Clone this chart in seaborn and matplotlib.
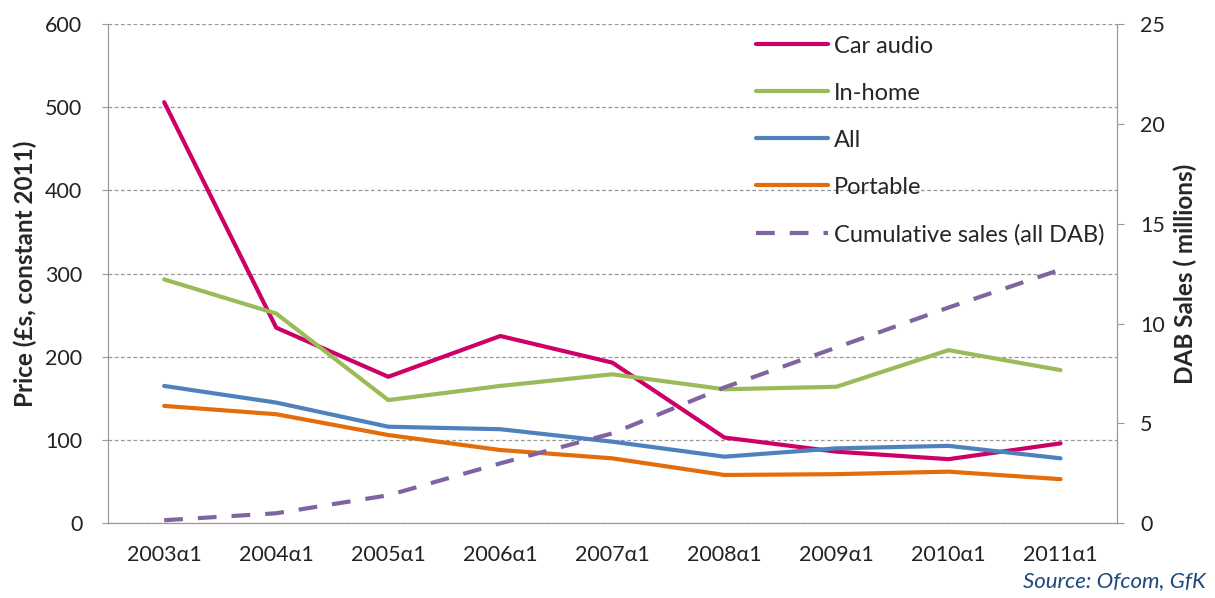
import numpy as np
import pandas as pd
import seaborn as sns
import matplotlib.pyplot as plt

quarters = ["2003α1", "2004α1", "2005α1", "2006α1", "2007α1",
            "2008α1", "2009α1", "2010α1", "2011α1"]
car_audio = [506, 235, 176, 225, 193, 103, 86, 77, 96]
in_home = [293, 252, 148, 165, 179, 161, 164, 208, 184]
all_dab = [165, 145, 116, 113, 98, 80, 90, 93, 78]
portable = [141, 131, 106, 88, 78, 58, 59, 62, 53]
cumulative_sales = [0.15, 0.5, 1.4, 3.0, 4.5, 6.8, 8.8, 10.8, 12.7]

series_names = ["Car audio", "In-home", "All", "Portable"]
colors = {"Car audio": "#CC0066", "In-home": "#9BBB59",
          "All": "#4F81BD", "Portable": "#E46C0A"}

sns.set_style("white")
plt.rcParams['font.family'] = ['Lato', 'DejaVu Sans']

df = pd.DataFrame({"Quarter": quarters, "Car audio": car_audio,
                   "In-home": in_home, "All": all_dab, "Portable": portable})
long = df.melt(id_vars="Quarter", var_name="Type", value_name="Price")
long["x"] = long["Quarter"].map({q: i for i, q in enumerate(quarters)})

fig = plt.figure(figsize=(12.15, 5.98), dpi=100)
ax = fig.add_axes([0.089, 0.125, 0.83, 0.835])
ax2 = ax.twinx()

sns.lineplot(data=long, x="x", y="Price", hue="Type", hue_order=series_names,
             palette=colors, linewidth=3, ax=ax, legend=False)
sales = pd.DataFrame({"x": range(len(quarters)), "Sales": cumulative_sales})
sns.lineplot(data=sales, x="x", y="Sales", color="#8064A2", linewidth=3,
             ax=ax2, legend=False)
ax2.lines[0].set_dashes([4.5, 3.6])

ax.set_xlim(-0.5, len(quarters) - 0.5)
ax.set_ylim(0, 600)
ax2.set_ylim(0, 25)
ax.set_yticks(range(0, 601, 100))
ax2.set_yticks(range(0, 26, 5))
ax.set_xticks(range(len(quarters)))
ax.set_xticklabels(quarters)
ax.set_xticks(np.arange(-0.5, len(quarters), 1), minor=True)
ax.tick_params(axis="x", which="major", length=0, pad=16, labelsize=15.5, colors="#222222")
ax.tick_params(axis="x", which="minor", length=7, color="#999999")
ax.tick_params(axis="y", length=4.5, pad=14, color="#999999", labelsize=15.5, colors="#222222")
ax2.tick_params(axis="y", length=5, pad=12, color="#999999", labelsize=15.5, colors="#222222")
ax.grid(axis="y", linestyle=(0, (3, 2)), color="#999999", linewidth=0.9)
ax.set_axisbelow(True)

for a in (ax, ax2):
    a.spines["top"].set_visible(False)
    for s in ("left", "right", "bottom"):
        a.spines[s].set_color("#999999")

ax.set_xlabel("")
ax.set_ylabel("Price (£s, constant 2011)", fontsize=17.5, fontweight="bold", labelpad=6)
ax2.set_ylabel("DAB Sales ( millions)", fontsize=17.5, fontweight="bold", labelpad=6)

handles = [plt.Line2D([], [], color=colors[n], linewidth=3) for n in series_names]
handles.append(plt.Line2D([], [], color="#8064A2", linewidth=3, dashes=[4.5, 3.6]))
labels = series_names + ["Cumulative sales (all DAB)"]
ax.legend(handles, labels, loc="upper right", bbox_to_anchor=(1.0, 1.0),
          frameon=False, fontsize=17, labelspacing=1.1, handlelength=3.05,
          handletextpad=0.25, borderaxespad=0.1)

fig.text(0.992, 0.012, "Source: Ofcom, GfK", ha="right", va="bottom",
         fontsize=16, style="italic", color="#1F497D")

fig.savefig("out.png", dpi=100)
